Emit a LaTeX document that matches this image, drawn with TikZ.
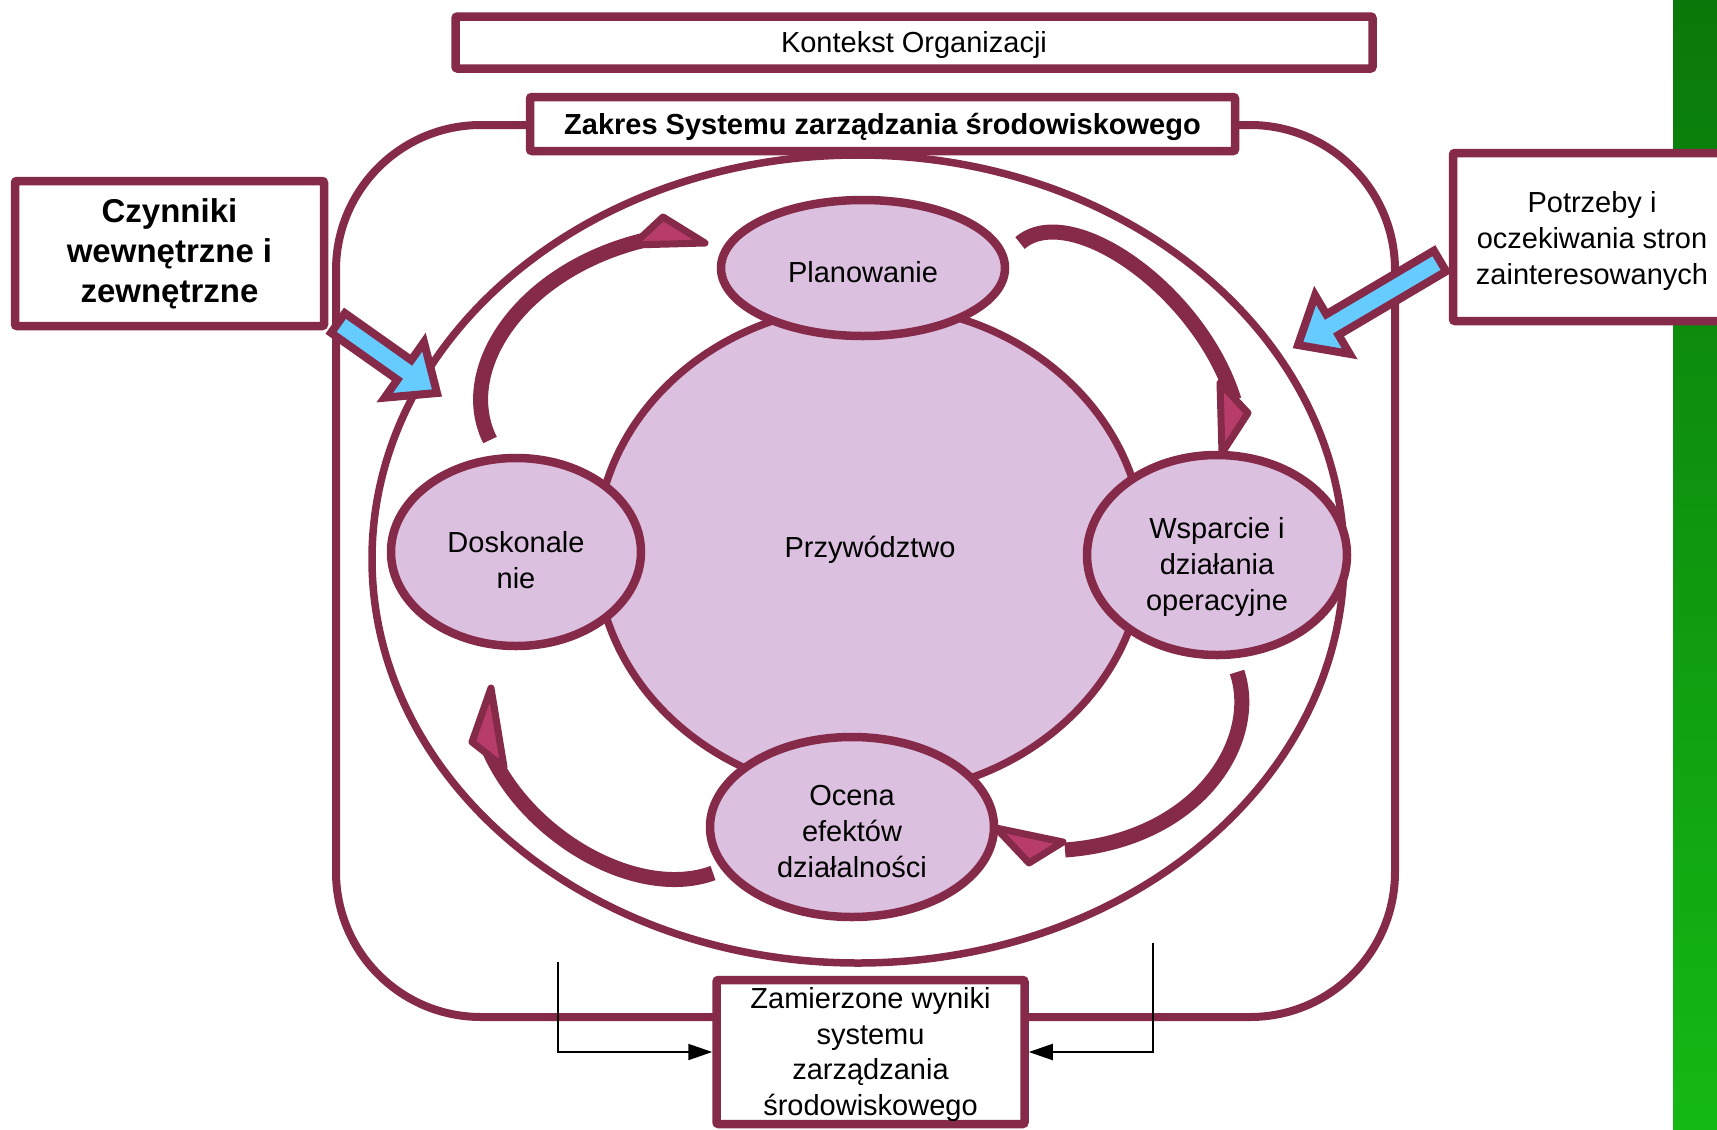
\documentclass[tikz,border=0pt]{standalone}
\usepackage{fontspec}
\setmainfont{Liberation Sans}
\usetikzlibrary{shapes.geometric,calc,arrows.meta}
\definecolor{bordo}{RGB}{134,42,74}
\definecolor{lila}{RGB}{220,192,224}
\definecolor{roz}{RGB}{184,60,106}
\definecolor{blekit}{RGB}{102,204,255}
\definecolor{zielC}{RGB}{10,120,10}
\definecolor{zielJ}{RGB}{20,185,20}
\tikzstyle{ramka} = [draw=bordo, line width=8.5pt, fill=white, inner sep=0pt, align=center, rounded corners=2pt, font=\fontsize{29}{36}\selectfont]
\tikzstyle{etap} = [ellipse, draw=bordo, line width=8.5pt, fill=lila, inner sep=0pt, align=center, font=\fontsize{29}{36}\selectfont]
\tikzstyle{luk} = [draw=bordo, line width=15pt]
\tikzstyle{grot} = [draw=bordo, fill=roz, line width=7pt, line join=round]
\tikzstyle{niebieska} = [draw=bordo, fill=blekit, line width=8pt]
\tikzstyle{wynik} = [draw=black, line width=2pt, -{Triangle[length=24pt,width=16pt]}]
\newcommand{\obniz}[1]{\rule{0pt}{#1}}
\newcommand{\wejscie}[2]{%
	\coordinate (#1-baza) at ($(#2)!40pt!(#1)$);%
	\filldraw[niebieska] ($(#1)!12pt!90:(#2)$) -- ($(#1-baza)!12pt!90:(#2)$) -- ($(#1-baza)!34pt!90:(#2)$) -- (#2) -- ($(#1-baza)!34pt!-90:(#2)$) -- ($(#1-baza)!12pt!-90:(#2)$) -- ($(#1)!12pt!-90:(#2)$) -- cycle;}
\newcommand{\cykl}[7]{%
	\draw[luk] (#1) .. controls (#2) and (#3) .. (#4);%
	\filldraw[grot] (#5) -- (#6) -- (#7) -- cycle;}

\begin{document}
\begin{tikzpicture}[x=1pt, y=-1pt]%
			\clip (0,0) rectangle (1717,1130);%
			\fill[white] (0,0) rectangle (1717,1130);%
			\shade[top color=zielC, bottom color=zielJ] (1673,0) rectangle (1717,1130);%
			% zakres i system
			\node[draw=bordo, line width=8pt, rounded corners=145pt, minimum width=1059pt, minimum height=892pt] (zakresSys) at (865.5,571) {};%
			\node[ellipse, draw=bordo, line width=7.5pt, minimum width=972pt, minimum height=808pt] (system) at (858,559) {};%
			\node[etap, line width=7.5pt, minimum width=548pt, minimum height=490pt] (przyw) at (870,550) {Przywództwo};%
			\node[etap, minimum width=284pt, minimum height=136pt] (plan) at (863,268) {\obniz{29pt}Planowanie};%
			\node[etap, minimum width=250pt, minimum height=188pt] (doskon) at (516,552) {\obniz{37pt}Doskonale\\nie};%
			\node[etap, minimum width=260pt, minimum height=200pt] (wsparcie) at (1217,555) {\obniz{45pt}Wsparcie i\\działania\\operacyjne};%
			\node[etap, minimum width=284pt, minimum height=180pt] (ocena) at (852,827) {\obniz{29pt}Ocena\\efektów\\działalności};%
			% cykl PDCA
			\cykl{490,440}{455,370}{520,270}{645,240}{663,217}{705,243}{633,245}%
			\cykl{1020,243}{1070,200}{1200,290}{1234,400}{1220,383}{1248,413}{1222,453}%
			\cykl{1237,672}{1260,740}{1200,840}{1065,850}{996,828}{1063,842}{1029,863}%
			\cykl{713,873}{640,900}{530,840}{490,752}{491,688}{472,742}{504,767}%
			% wejscia
			\coordinate (czynOgon) at (338,323);%
			\coordinate (czynGrot) at (437,393);%
			\coordinate (potrzOgon) at (1440,261);%
			\coordinate (potrzGrot) at (1298,345);%
			\wejscie{czynOgon}{czynGrot}%
			\wejscie{potrzOgon}{potrzGrot}%
			\node[ramka, minimum width=917pt, minimum height=52pt] (kontekst) at (914,42.5) {\obniz{27pt}Kontekst Organizacji};%
			\node[ramka, minimum width=705pt, minimum height=54pt, font=\fontsize{29}{36}\selectfont\bfseries] (zakres) at (882.5,124) {\obniz{27pt}Zakres Systemu zarządzania środowiskowego};%
			\node[ramka, minimum width=309pt, minimum height=145pt, font=\fontsize{33}{40}\selectfont\bfseries] (czynniki) at (169.5,253.5) {Czynniki\\wewnętrzne i\\zewnętrzne};%
			\node[ramka, minimum width=278pt, minimum height=168pt] (potrzeby) at (1592,237) {\obniz{29pt}Potrzeby i\\oczekiwania stron\\zainteresowanych};%
			\node[ramka, minimum width=308pt, minimum height=144pt, font=\fontsize{29}{35.5}\selectfont] (wyniki) at (870.5,1052) {\obniz{26pt}Zamierzone wyniki\\systemu\\zarządzania\\środowiskowego};%
			% wyniki
			\coordinate (wynL) at (558,962);%
			\coordinate (wynP) at (1153,943);%
			\draw[wynik] (wynL) |- (wyniki.west);%
			\draw[wynik] (wynP) |- (wyniki.east);%
		\end{tikzpicture}
\end{document}
